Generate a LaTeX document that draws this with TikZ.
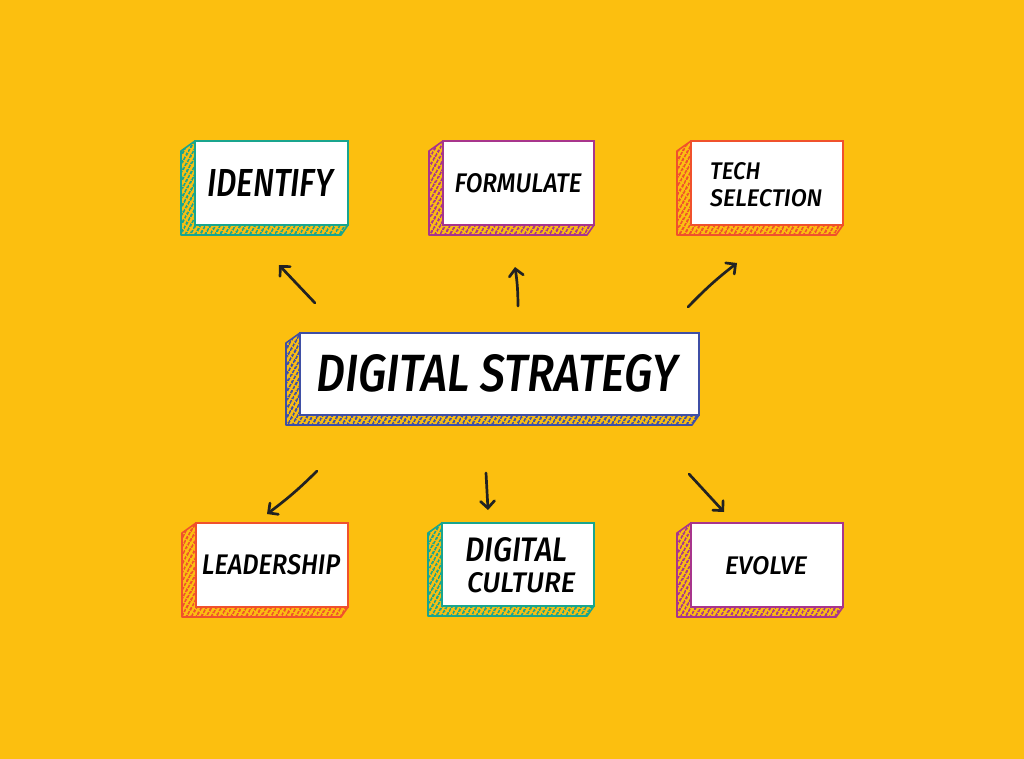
\documentclass[tikz,border=0pt]{standalone}
\usepackage{fontspec}
\newfontfamily\hand{Fira Sans}[UprightFont=* Medium, ItalicFont=* Medium Italic]
\usetikzlibrary{arrows.meta,patterns.meta}
\definecolor{bg}{HTML}{FCBF0F}
\definecolor{cteal}{HTML}{19A58E}
\definecolor{cpurp}{HTML}{A8358C}
\definecolor{corng}{HTML}{F0512C}
\definecolor{cblue}{HTML}{3F4FA5}
\definecolor{ink}{HTML}{222222}
\newcommand\handtxt[3]{\resizebox{#1pt}{#2pt}{\hand\itshape #3}}
\tikzset{
  face/.style={draw=#1, fill=white, line width=2.6pt, inner sep=0pt},
  side/.style={draw=#1, line width=1.6pt, line join=round,
    pattern={Lines[angle=60,distance=4pt,line width=2.1pt]}, pattern color=#1},
  arr/.style={draw=ink, line width=2.7pt, line cap=round,
    -{Straight Barb[length=7pt,width=14pt,line cap=round]}},
  lbl/.style={inner sep=0pt, text=black}
}
% name, L, T, R, B, colour
\newcommand\tdbox[6]{%
  \draw[side=#6] (#2,#3) -- (#2-14,#3+10) -- (#2-14,#5+10) -- (#4-7,#5+10) -- (#4,#5) -- (#2,#5) -- cycle;
  \node[face=#6, minimum width=#4pt-#2pt, minimum height=#5pt-#3pt] (#1) at ({(#2+#4)/2},{(#3+#5)/2}) {};
}
\begin{document}
\begin{tikzpicture}[x=1pt,y=-1pt]
\fill[bg] (0,0) rectangle (1024,759);
\useasboundingbox (0,0) rectangle (1024,759);

\tdbox{identify}{195}{141}{348}{225}{cteal}
\tdbox{formulate}{443}{141}{594}{225}{cpurp}
\tdbox{tech}{691}{141}{843}{225}{corng}
\tdbox{strategy}{300}{333}{699}{415}{cblue}
\tdbox{leader}{196}{523}{348}{607}{corng}
\tdbox{culture}{442}{523}{594}{606}{cteal}
\tdbox{evolve}{691}{523}{843}{607}{cpurp}

\node[lbl] (tid) at (270,183) {\handtxt{126}{27}{IDENTIFY}};
\node[lbl] (tfo) at (518,183) {\handtxt{127}{19}{FORMULATE}};
\node[lbl, anchor=west] (tte1) at (710,171.5) {\handtxt{50}{17}{TECH}};
\node[lbl, anchor=west] (tte2) at (710,198.5) {\handtxt{112}{17}{SELECTION}};
\node[lbl] (tds) at (497,373) {\handtxt{361}{37}{DIGITAL STRATEGY}};
\node[lbl] (tle) at (271,565) {\handtxt{138}{20}{LEADERSHIP}};
\node[lbl, anchor=west] (tdc1) at (465,550) {\handtxt{102}{24}{DIGITAL}};
\node[lbl, anchor=west] (tdc2) at (467,583) {\handtxt{108}{20}{CULTURE}};
\node[lbl] (tev) at (766,566) {\handtxt{82}{18}{EVOLVE}};

\coordinate (a1s) at (315,303); \coordinate (a1e) at (279,265);
\coordinate (a2s) at (518,306); \coordinate (a2e) at (515,267);
\coordinate (a3s) at (688,307); \coordinate (a3e) at (737,263);
\coordinate (a4s) at (317,471); \coordinate (a4e) at (267,514);
\coordinate (a5s) at (486,473); \coordinate (a5e) at (488,510);
\coordinate (a6s) at (689,474); \coordinate (a6e) at (724,512);

\draw[arr] (a1s) -- (a1e);
\draw[arr] (a2s) to[bend right=4] (a2e);
\draw[arr] (a3s) to[bend left=4] (a3e);
\draw[arr] (a4s) to[bend left=4] (a4e);
\draw[arr] (a5s) -- (a5e);
\draw[arr] (a6s) -- (a6e);
\end{tikzpicture}
\end{document}
